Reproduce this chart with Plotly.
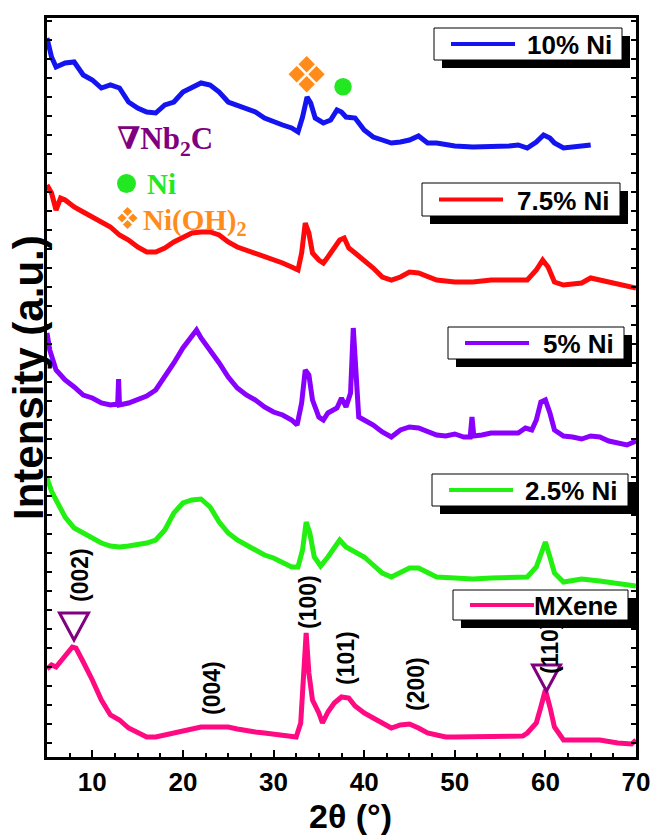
import plotly.graph_objects as go

# ---------------- data (2θ in degrees, stacked intensity in a.u.) ----------------
mx_tt = [5, 5.5, 6, 6.5, 7, 7.5, 7.8, 8.2, 8.6, 9, 10, 11, 12, 13, 14, 15, 16, 17, 18, 19, 20,
         21, 22, 23, 24, 25, 26, 27, 28, 29, 30, 31, 32, 32.5, 33, 33.3, 33.6, 33.9, 34.3, 35,
         35.4, 36, 36.7, 37.5, 38.3, 39, 40, 41, 42, 43, 44, 45, 46, 47, 48, 49, 50, 52, 54,
         56, 57.5, 58, 59, 59.5, 60, 60.5, 61, 62, 64, 66, 68, 69.5, 70]
mx_int = [88, 92, 90, 96, 100, 106, 110, 109, 103, 95, 77, 57, 42, 37, 29, 24, 20, 20, 22, 23, 25,
          28, 30, 30, 30, 30, 28, 26, 25, 24, 23, 22, 20, 20, 34, 74, 124, 84, 57, 44,
          34, 45, 54, 60, 59, 51, 44, 39, 34, 29, 32, 33, 29, 24, 22, 20, 20, 20, 20,
          20, 21, 24, 34, 50, 67, 50, 30, 17, 17, 17, 14, 13, 17]

ni25_tt = [5, 5.5, 6, 7, 8, 9, 10, 11, 12, 13, 14, 15, 16, 17, 18, 19, 20, 21, 22, 23, 24, 25,
           26, 27, 28, 29, 30, 31, 32, 32.7, 33.2, 33.6, 34, 34.5, 35.2, 36, 36.8, 37.3, 38,
           39, 40, 41, 42, 43, 44, 45, 46, 47, 48, 50, 52, 54, 56, 58, 59, 59.5, 60, 60.5,
           61, 62, 64, 66, 68, 70]
ni25_int = [279, 266, 257, 240, 229, 224, 219, 214, 211, 210, 211, 212, 214, 217, 227, 244, 254,
            257, 258, 250, 235, 224, 217, 212, 207, 202, 199, 195, 190, 190, 207, 235, 224, 200,
            191, 200, 210, 217, 210, 205, 200, 192, 184, 180, 184, 189, 189, 184, 180, 179,
            178, 179, 179, 180, 190, 204, 215, 200, 184, 175, 178, 176, 174, 171]

ni5_tt = [5, 5.3, 6, 7, 8, 9, 10, 11, 12, 12.8, 12.9, 13.0, 14, 15, 16, 17, 18, 19, 20, 21, 21.5,
          22, 23, 24, 25, 26, 27, 28, 29, 30, 31, 32, 32.6, 33.1, 33.5, 33.9, 34.3, 35, 35.5,
          36, 37, 37.5, 38, 38.5, 38.8, 39.1, 39.4, 40, 41, 42, 43, 44, 45, 46, 47, 48, 49,
          50, 51, 51.7, 51.9, 52.1, 53, 54, 55, 56, 57, 57.8, 58.5, 59, 59.5, 60, 60.5, 61,
          62, 63, 64, 65, 66, 67, 68, 69, 70]
ni5_int = [424, 407, 387, 377, 370, 362, 359, 354, 352, 353, 378, 352, 354, 358, 361, 367, 380,
           394, 409, 422, 427, 419, 407, 394, 380, 369, 362, 357, 350, 345, 342, 337, 332, 354,
           387, 382, 357, 340, 337, 344, 349, 359, 350, 364, 429, 380, 340, 337, 332, 325, 320,
           327, 330, 329, 325, 322, 321, 323, 320, 320, 340, 321, 322, 324, 324, 324, 324, 329,
           327, 337, 355, 357, 344, 327, 321, 320, 318, 321, 320, 316, 314, 312, 316]

ni75_tt = [5, 5.5, 6, 6.5, 7, 8, 9, 10, 11, 12, 13, 14, 15, 16, 17, 18, 19, 20, 21, 22, 23, 24,
           25, 26, 27, 28, 29, 30, 31, 32, 32.7, 33.1, 33.5, 33.9, 34.3, 35, 35.5, 36, 36.7,
           37.3, 37.8, 38.3, 39, 40, 41, 42, 43, 44, 45, 46, 47, 48, 50, 52, 54, 56, 58, 59,
           59.7, 60.3, 61, 62, 64, 65, 66, 68, 70]
ni75_int = [572, 564, 547, 559, 557, 550, 545, 540, 535, 530, 522, 517, 510, 505, 505, 509, 515,
            520, 524, 525, 525, 522, 515, 510, 507, 504, 500, 497, 494, 490, 487, 504, 534, 524,
            504, 497, 494, 500, 509, 517, 519, 509, 504, 497, 489, 480, 477, 480, 485, 484,
            480, 477, 475, 475, 477, 477, 477, 487, 497, 490, 475, 472, 474, 479, 477, 474, 469]

ni10_tt = [5, 5.5, 6, 7, 8, 9, 10, 11, 12, 13, 14, 15, 16, 17, 18, 19, 20, 21, 22, 23, 24, 25,
           26, 27, 28, 29, 30, 31, 32, 32.7, 33.2, 33.7, 34.1, 34.6, 35.5, 36.3, 37, 37.5, 38,
           39, 40, 41, 42, 43, 44, 45, 46, 47, 48, 50, 52, 54, 56, 57, 58, 59, 59.8, 60.5, 61,
           62, 63, 64, 65]
ni10_int = [719, 700, 690, 694, 695, 682, 677, 669, 672, 669, 655, 649, 645, 644, 652, 655, 665,
            670, 674, 672, 665, 655, 652, 649, 645, 639, 635, 632, 629, 625, 640, 660, 654, 639,
            634, 637, 647, 645, 640, 639, 627, 620, 617, 614, 615, 617, 621, 614, 614, 611,
            610, 610, 611, 612, 609, 615, 622, 619, 614, 609, 610, 610, 612]

series_names = ["10% Ni", "7.5% Ni", "5% Ni", "2.5% Ni", "MXene"]
x_ticks = [10, 20, 30, 40, 50, 60, 70]
hkl_labels = ["(002)", "(004)", "(100)", "(101)", "(200)", "(110)"]
phase_labels = ["∇Nb<sub>2</sub>C", "Ni", "Ni(OH)<sub>2</sub>"]

# ---------------- layout helpers (pixel -> paper) ----------------
W, H = 654, 840
L, R, T, B = 47, 636, 18, 757


def px(x):
    return (x - L) / (R - L)


def py(y):
    return (B - y) / (B - T)


FONT = "Arial, 'Liberation Sans', sans-serif"
SERIF = "'Liberation Serif', 'Times New Roman', 'DejaVu Serif', serif"
PURPLE = "#800080"
ORANGE = "#FF8C1A"
GREEN = "#22E822"

colors = ["#1414F0", "#FF0A0A", "#8A00FF", "#22F010", "#FF0A82"]
xs = [ni10_tt, ni75_tt, ni5_tt, ni25_tt, mx_tt]
ys = [ni10_int, ni75_int, ni5_int, ni25_int, mx_int]
# legend boxes in pixels: (left, right, top, bottom)
boxes = [(434, 622, 28, 60), (422, 620, 183, 216), (448, 624, 327, 359),
         (432, 628, 474, 506), (453, 628, 590, 620)]

fig = go.Figure()
for name, x, y, c in zip(series_names, xs, ys, colors):
    fig.add_trace(go.Scatter(x=x, y=y, mode="lines", name=name, showlegend=False,
                             line=dict(color=c, width=5)))

shapes = []
annotations = []
# per-series key boxes with drop shadow
for name, c, (l, r, t, b) in zip(series_names, colors, boxes):
    shapes.append(dict(type="rect", xref="paper", yref="paper", layer="above",
                       x0=px(l + 8), x1=px(r + 8), y0=py(b + 8), y1=py(t + 8),
                       fillcolor="black", line=dict(width=0)))
    shapes.append(dict(type="rect", xref="paper", yref="paper", layer="above",
                       x0=px(l), x1=px(r), y0=py(b), y1=py(t),
                       fillcolor="white", line=dict(color="black", width=1)))
    ym = (t + b) / 2
    shapes.append(dict(type="line", xref="paper", yref="paper", layer="above",
                       x0=px(l + 17), x1=px(l + 81), y0=py(ym), y1=py(ym),
                       line=dict(color=c, width=4)))
    annotations.append(dict(text=name, x=px(r - 8), y=py(ym + 1), xref="paper", yref="paper",
                            showarrow=False, xanchor="right", yanchor="middle",
                            font=dict(family=FONT, size=26, color="black", weight="bold")))


def tri(cx, top, w, h):
    return dict(type="path", xref="paper", yref="paper", layer="above",
                path=f"M{px(cx - w / 2)},{py(top)} L{px(cx + w / 2)},{py(top)} L{px(cx)},{py(top + h)} Z",
                line=dict(color=PURPLE, width=3), fillcolor="rgba(0,0,0,0)")


def diamond(cx, cy, hw, hh):
    return dict(type="path", xref="paper", yref="paper", layer="above",
                path=(f"M{px(cx)},{py(cy - hh)} L{px(cx + hw)},{py(cy)} "
                      f"L{px(cx)},{py(cy + hh)} L{px(cx - hw)},{py(cy)} Z"),
                line=dict(width=0), fillcolor=ORANGE)


def circle(cx, cy, d):
    return dict(type="circle", xref="paper", yref="paper", layer="above",
                x0=px(cx - d / 2), x1=px(cx + d / 2), y0=py(cy + d / 2), y1=py(cy - d / 2),
                fillcolor=GREEN, line=dict(width=0))


# Nb2C triangles on the MXene peaks
shapes += [tri(74, 613, 29, 27), tri(546.5, 665, 28, 26)]
# Ni(OH)2 cluster above the 10% Ni peak, and in the key
for cx, cy in [(306.7, 64.3), (296.7, 74.2), (316.5, 74.2), (306.7, 84.2)]:
    shapes.append(diamond(cx, cy, 8.2, 8.2))
for cx, cy in [(127.5, 211.5), (122, 218), (133, 218), (127.5, 224.5)]:
    shapes.append(diamond(cx, cy, 4.6, 4.6))
# Ni circles
shapes.append(circle(343, 86.7, 17.5))
shapes.append(circle(126.5, 183.5, 19))

# Miller indices (rotated)
hkl_pos = [(80, 575), (212, 688), (308, 602), (346, 658), (416, 684), (550, 648)]
for txt, (cx, cy) in zip(hkl_labels, hkl_pos):
    annotations.append(dict(text=txt, x=px(cx), y=py(cy), xref="paper", yref="paper",
                            showarrow=False, textangle=-90, xanchor="center", yanchor="middle",
                            font=dict(family=FONT, size=23, color="black", weight="bold")))

# phase key texts
annotations += [
    dict(text=phase_labels[0], x=px(115), y=py(141), xref="paper", yref="paper",
         showarrow=False, xanchor="left", yanchor="middle",
         font=dict(family=SERIF, size=31, color=PURPLE, weight="bold")),
    dict(text=phase_labels[1], x=px(145), y=py(184), xref="paper", yref="paper",
         showarrow=False, xanchor="left", yanchor="middle",
         font=dict(family=SERIF, size=29, color=GREEN, weight="bold")),
    dict(text=phase_labels[2], x=px(141), y=py(222), xref="paper", yref="paper",
         showarrow=False, xanchor="left", yanchor="middle",
         font=dict(family=SERIF, size=29, color=ORANGE, weight="bold")),
]

# axis titles
annotations += [
    dict(text="2θ (°)", x=px(350), y=py(816), xref="paper", yref="paper", showarrow=False,
         xanchor="center", yanchor="middle",
         font=dict(family=FONT, size=34, color="black", weight="bold")),
    dict(text="Intensity (a.u.)", x=px(28), y=py(378), xref="paper", yref="paper",
         showarrow=False, textangle=-90, xanchor="center", yanchor="middle",
         font=dict(family=FONT, size=42, color="black", weight="bold")),
]

fig.update_layout(
    width=W, height=H,
    margin=dict(l=L, r=W - R, t=T, b=H - B, autoexpand=False),
    paper_bgcolor="white", plot_bgcolor="white",
    shapes=shapes, annotations=annotations, showlegend=False,
)
fig.update_xaxes(range=[5, 70], tickvals=x_ticks, ticktext=[str(v) for v in x_ticks],
                 showgrid=False, zeroline=False, showline=True, linecolor="black", linewidth=3,
                 mirror=True, ticks="inside", ticklen=7, tickwidth=2, tickcolor="black",
                 minor=dict(dtick=2.5, tick0=5, ticks="inside", ticklen=4, tickwidth=1.5,
                            tickcolor="black"),
                 tickfont=dict(family=FONT, size=26, color="black", weight="bold"))
fig.update_yaxes(range=[0, 739], showticklabels=False, showgrid=False, zeroline=False,
                 showline=True, linecolor="black", linewidth=3, mirror="ticks",
                 ticks="inside", tick0=14, dtick=19, ticklen=5, tickwidth=1.5,
                 tickcolor="black")

fig.write_html("out.html")
